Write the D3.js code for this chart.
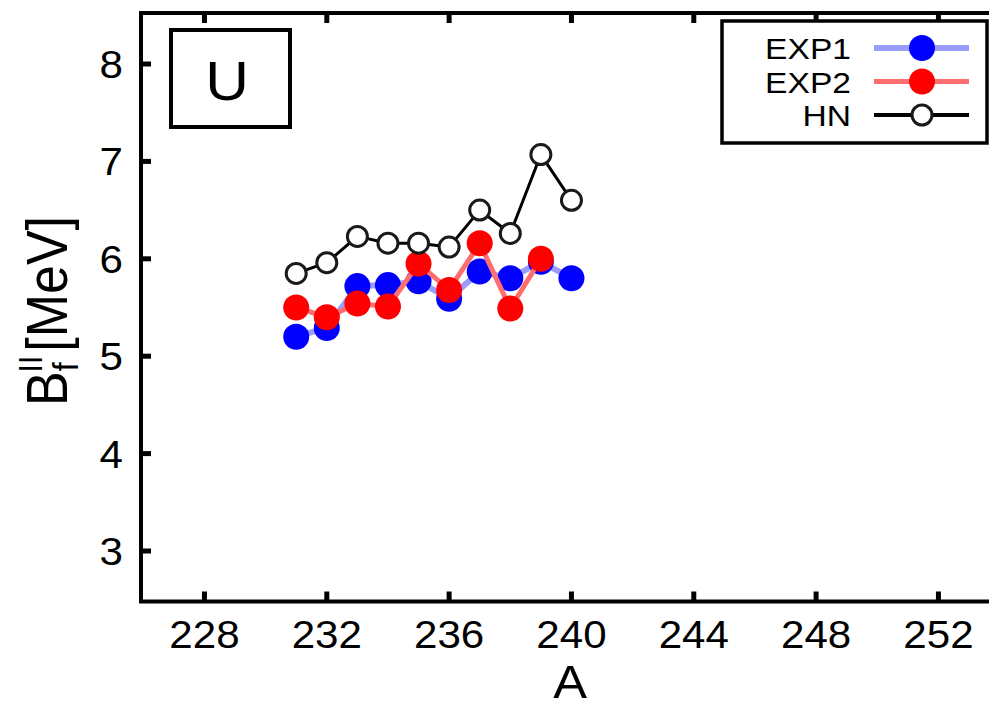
<!DOCTYPE html>
<html>
<head>
<meta charset="utf-8">
<script src="https://cdn.jsdelivr.net/npm/d3@7/dist/d3.min.js"></script>
<style>
  html, body { margin: 0; padding: 0; background: #fff; }
  svg { display: block; font-family: "Liberation Sans", Arial, Helvetica, sans-serif; }
</style>
</head>
<body>
<svg id="chart" width="989" height="709"></svg>
<script>
// Mass numbers of the uranium isotopes
const massNumbers = [231, 232, 233, 234, 235, 236, 237, 238, 239, 240];
// Outer fission barrier heights B_f^II [MeV]
const exp1Values = [5.20, 5.29, 5.72, 5.73, 5.77, 5.59, 5.87, 5.80, 5.97, 5.80];
const exp2Mass   = [231, 232, 233, 234, 235, 236, 237, 238, 239];
const exp2Values = [5.50, 5.40, 5.54, 5.51, 5.95, 5.68, 6.16, 5.49, 6.00];
const hnValues   = [5.85, 5.96, 6.23, 6.16, 6.16, 6.12, 6.50, 6.26, 7.07, 6.60];

const xTicks = [228, 232, 236, 240, 244, 248, 252];
const yTicks = [3, 4, 5, 6, 7, 8];
const seriesNames = ["EXP1", "EXP2", "HN"];

const svg = d3.select("#chart");
const font = "'Liberation Sans', Arial, Helvetica, sans-serif";

// Plot frame (right edge runs past the viewport)
const frame = { left: 141, right: 999.6, top: 13, bottom: 601.5 };

const x = d3.scaleLinear().domain([226, 254]).range([143.3, 999.6]);
const y = d3.scaleLinear().domain([2.5, 8.5]).range([599.7, 15.3]);

// Frame
svg.append("rect")
  .attr("x", frame.left).attr("y", frame.top)
  .attr("width", frame.right - frame.left).attr("height", frame.bottom - frame.top)
  .attr("fill", "none").attr("stroke", "#000").attr("stroke-width", 4);

// Inward ticks on all four sides
const tickLen = 10;
const tickG = svg.append("g").attr("stroke", "#000").attr("stroke-width", 5);
xTicks.forEach(t => {
  tickG.append("line").attr("x1", x(t)).attr("x2", x(t))
    .attr("y1", frame.bottom).attr("y2", frame.bottom - tickLen);
  tickG.append("line").attr("x1", x(t)).attr("x2", x(t))
    .attr("y1", frame.top).attr("y2", frame.top + tickLen);
});
yTicks.forEach(t => {
  tickG.append("line").attr("x1", frame.left).attr("x2", frame.left + tickLen)
    .attr("y1", y(t)).attr("y2", y(t));
  tickG.append("line").attr("x1", frame.right).attr("x2", frame.right - tickLen)
    .attr("y1", y(t)).attr("y2", y(t));
});

// Tick labels
const stretch = 1.08;
svg.append("g").selectAll("text").data(xTicks).join("text")
  .attr("transform", d => `translate(${x(d)},648) scale(${stretch},1)`)
  .attr("text-anchor", "middle")
  .attr("font-family", font).attr("font-size", 39).attr("fill", "#000")
  .text(d => d);

svg.append("g").selectAll("text").data(yTicks).join("text")
  .attr("transform", d => `translate(123,${y(d) + 14}) scale(${stretch},1)`)
  .attr("text-anchor", "end")
  .attr("font-family", font).attr("font-size", 39).attr("fill", "#000")
  .text(d => d);

// Axis titles
svg.append("text")
  .attr("transform", `translate(570,698) scale(1.1,1)`)
  .attr("text-anchor", "middle")
  .attr("font-family", font).attr("font-size", 46).attr("fill", "#000")
  .text("A");

const yTitle = svg.append("text")
  .attr("transform", `translate(67,406) scale(1.12,1) rotate(-90)`)
  .attr("font-family", font).attr("font-size", 52).attr("fill", "#000");
yTitle.append("tspan").text("B");
yTitle.append("tspan").attr("font-size", 32).attr("dy", 10).text("f");
yTitle.append("tspan").attr("font-size", 30).attr("dx", -10).attr("dy", -32).text("II");
yTitle.append("tspan").attr("dy", 22).attr("dx", 4).text("[MeV]");

// Element label box
svg.append("rect")
  .attr("x", 171).attr("y", 30).attr("width", 119).attr("height", 97)
  .attr("fill", "#fff").attr("stroke", "#000").attr("stroke-width", 4);
svg.append("text")
  .attr("transform", `translate(227,100) scale(${stretch},1)`)
  .attr("text-anchor", "middle")
  .attr("font-family", font).attr("font-size", 56).attr("fill", "#000")
  .text("U");

// Series styles
const styles = {
  EXP1: { line: "#9c9cff", lineWidth: 6, fill: "#0000ff", stroke: "none", r: 13 },
  EXP2: { line: "#ff6e6e", lineWidth: 5, fill: "#ff0000", stroke: "none", r: 13 },
  HN:   { line: "#000000", lineWidth: 3, fill: "#ffffff", stroke: "#1a1a1a", r: 10 }
};

const series = [
  { name: "EXP1", points: massNumbers.map((a, i) => ({ a, v: exp1Values[i] })) },
  { name: "EXP2", points: exp2Mass.map((a, i) => ({ a, v: exp2Values[i] })) },
  { name: "HN",   points: massNumbers.map((a, i) => ({ a, v: hnValues[i] })) }
];

const line = d3.line().x(d => x(d.a)).y(d => y(d.v));

series.forEach(s => {
  const st = styles[s.name];
  const g = svg.append("g");
  g.append("path").datum(s.points)
    .attr("d", line).attr("fill", "none")
    .attr("stroke", st.line).attr("stroke-width", st.lineWidth)
    .attr("stroke-linejoin", "round");
  g.selectAll("circle").data(s.points).join("circle")
    .attr("cx", d => x(d.a)).attr("cy", d => y(d.v)).attr("r", st.r)
    .attr("fill", st.fill)
    .attr("stroke", st.stroke === "none" ? null : st.stroke)
    .attr("stroke-width", st.stroke === "none" ? null : 3);
});

// Legend
const legend = svg.append("g");
legend.append("rect")
  .attr("x", 722).attr("y", 21).attr("width", 265).attr("height", 122)
  .attr("fill", "#fff").attr("stroke", "#000").attr("stroke-width", 3.5);

const legendY = d3.scalePoint().domain(seriesNames).range([48, 115]);
seriesNames.forEach(name => {
  const st = styles[name];
  const ly = legendY(name);
  legend.append("text")
    .attr("transform", `translate(851,${ly + 11}) scale(1.12,1)`)
    .attr("text-anchor", "end")
    .attr("font-family", font).attr("font-size", 30).attr("fill", "#000")
    .text(name);
  legend.append("line")
    .attr("x1", 874).attr("x2", 969).attr("y1", ly).attr("y2", ly)
    .attr("stroke", st.line).attr("stroke-width", name === "HN" ? 4 : st.lineWidth);
  legend.append("circle")
    .attr("cx", 922).attr("cy", ly).attr("r", st.r)
    .attr("fill", st.fill)
    .attr("stroke", st.stroke === "none" ? null : st.stroke)
    .attr("stroke-width", st.stroke === "none" ? null : 3);
});
</script>
</body>
</html>
